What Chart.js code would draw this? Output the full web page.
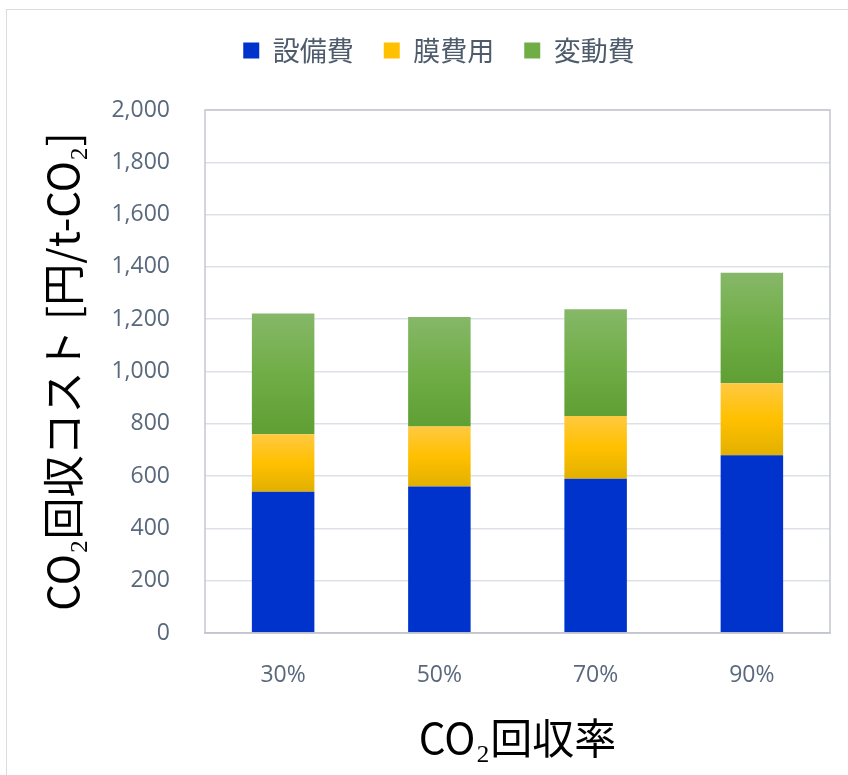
<!DOCTYPE html>
<html lang="ja">

<head>
    <meta charset="UTF-8">
    <title>CO2回収コスト</title>
    <style>
        html, body {
            margin: 0;
            padding: 0;
            background: #fff;
            overflow: hidden;
        }

        #frame {
            position: absolute;
            left: 6px;
            top: 9px;
            width: 900px;
            height: 900px;
            border: 1.5px solid #d8dde4;
        }

        #cost-chart {
            position: absolute;
            left: 0;
            top: 0;
        }
    </style>
</head>

<body>
    <div id="frame"></div>
    <canvas id="cost-chart" width="848" height="775"></canvas>
    <script src="https://cdn.jsdelivr.net/npm/chart.js"></script>
    <script>
    // 回収率ごとのコスト内訳 [円/t-CO2]
    const rates = ['30%', '50%', '70%', '90%'];
    const equipment = [540, 560, 590, 680];
    const membrane = [220, 230, 240, 275];
    const variable = [462, 418, 408, 423];
    const yTicks = [0, 200, 400, 600, 800, 1000, 1200, 1400, 1600, 1800, 2000];

    const legendColors = ['#0033cc', '#ffc000', '#70ad47'];

    // vertical gradient over one stacked segment
    function shade(stops) {
        return function (ctx) {
            const chart = ctx.chart;
            if (!chart.chartArea || ctx.type !== 'data') return stops[0][1];
            const y = chart.scales.y;
            let base = 0;
            for (let k = 0; k < ctx.datasetIndex; k++) {
                base += chart.data.datasets[k].data[ctx.dataIndex];
            }
            const top = y.getPixelForValue(base + ctx.raw);
            const bottom = y.getPixelForValue(base);
            const g = chart.ctx.createLinearGradient(0, top, 0, bottom);
            stops.forEach(s => g.addColorStop(s[0], s[1]));
            return g;
        };
    }

    const plotFrame = {
        id: 'plotFrame',
        afterDraw(chart) {
            const a = chart.chartArea;
            const c = chart.ctx;
            c.save();
            c.strokeStyle = '#c3c7cd';
            c.lineWidth = 1.5;
            c.strokeRect(a.left, a.top, a.right - a.left, a.bottom - a.top);
            c.restore();
        }
    };

    const legendHeight = {
        id: 'legendHeight',
        beforeInit(chart) {
            const fit = chart.legend.fit;
            chart.legend.fit = function () {
                fit.call(this);
                this.height = 103;
            };
        }
    };

    const tickFont = { family: "'Open Sans', 'Noto Sans CJK JP'", size: 23 };

    const ctx = document.getElementById('cost-chart').getContext('2d');
    const costChart = new Chart(ctx, {
        type: 'bar',
        data: {
            labels: rates,
            datasets: [
                {
                    label: '設備費',
                    data: equipment,
                    backgroundColor: '#0033cc',
                },
                {
                    label: '膜費用',
                    data: membrane,
                    backgroundColor: shade([[0, '#ffc940'], [0.5, '#ffc000'], [1, '#e2b000']]),
                },
                {
                    label: '変動費',
                    data: variable,
                    backgroundColor: shade([[0, '#86b868'], [0.5, '#70ad47'], [1, '#5f9f33']]),
                },
            ],
        },
        options: {
            responsive: false,
            animation: false,
            layout: {
                padding: { left: 48, right: 18, top: 7, bottom: 0 },
            },
            datasets: {
                bar: {
                    categoryPercentage: 1,
                    barPercentage: 0.4,
                },
            },
            plugins: {
                tooltip: { enabled: false },
                legend: {
                    position: 'top',
                    labels: {
                        boxWidth: 16,
                        boxHeight: 16,
                        padding: 30,
                        color: '#4e5b6c',
                        font: { family: "'Noto Sans CJK JP'", size: 27 },
                        generateLabels(chart) {
                            const items = Chart.defaults.plugins.legend.labels.generateLabels(chart);
                            items.forEach((it, i) => {
                                it.fillStyle = legendColors[i];
                                it.strokeStyle = legendColors[i];
                                it.lineWidth = 0;
                            });
                            return items;
                        },
                    },
                },
            },
            scales: {
                x: {
                    stacked: true,
                    afterFit: s => { s.height = 142; },
                    grid: { display: false },
                    border: { color: '#c3c7cd', width: 1.5 },
                    ticks: {
                        color: '#59687c',
                        padding: 21,
                        font: tickFont,
                    },
                    title: {
                        display: true,
                        text: 'CO₂回収率',
                        color: '#000',
                        padding: { top: 0, bottom: 12 },
                        font: { family: "'Noto Sans CJK JP'", size: 42 },
                    },
                },
                y: {
                    stacked: true,
                    min: 0,
                    max: 2000,
                    afterFit: s => { s.width = 157; },
                    afterBuildTicks: s => { s.ticks = yTicks.map(v => ({ value: v })); },
                    grid: {
                        color: '#dde1e7',
                        lineWidth: 1.5,
                        drawTicks: false,
                    },
                    border: { display: false },
                    ticks: {
                        color: '#59687c',
                        padding: 35,
                        font: tickFont,
                        callback: v => v.toLocaleString('en-US'),
                    },
                    title: {
                        display: true,
                        text: 'CO₂回収コスト [円/t-CO₂]',
                        color: '#000',
                        padding: { top: -10, bottom: 0 },
                        font: { family: "'Noto Sans CJK JP'", size: 42 },
                    },
                },
            },
        },
        plugins: [plotFrame, legendHeight],
    });
    </script>
</body>

</html>
